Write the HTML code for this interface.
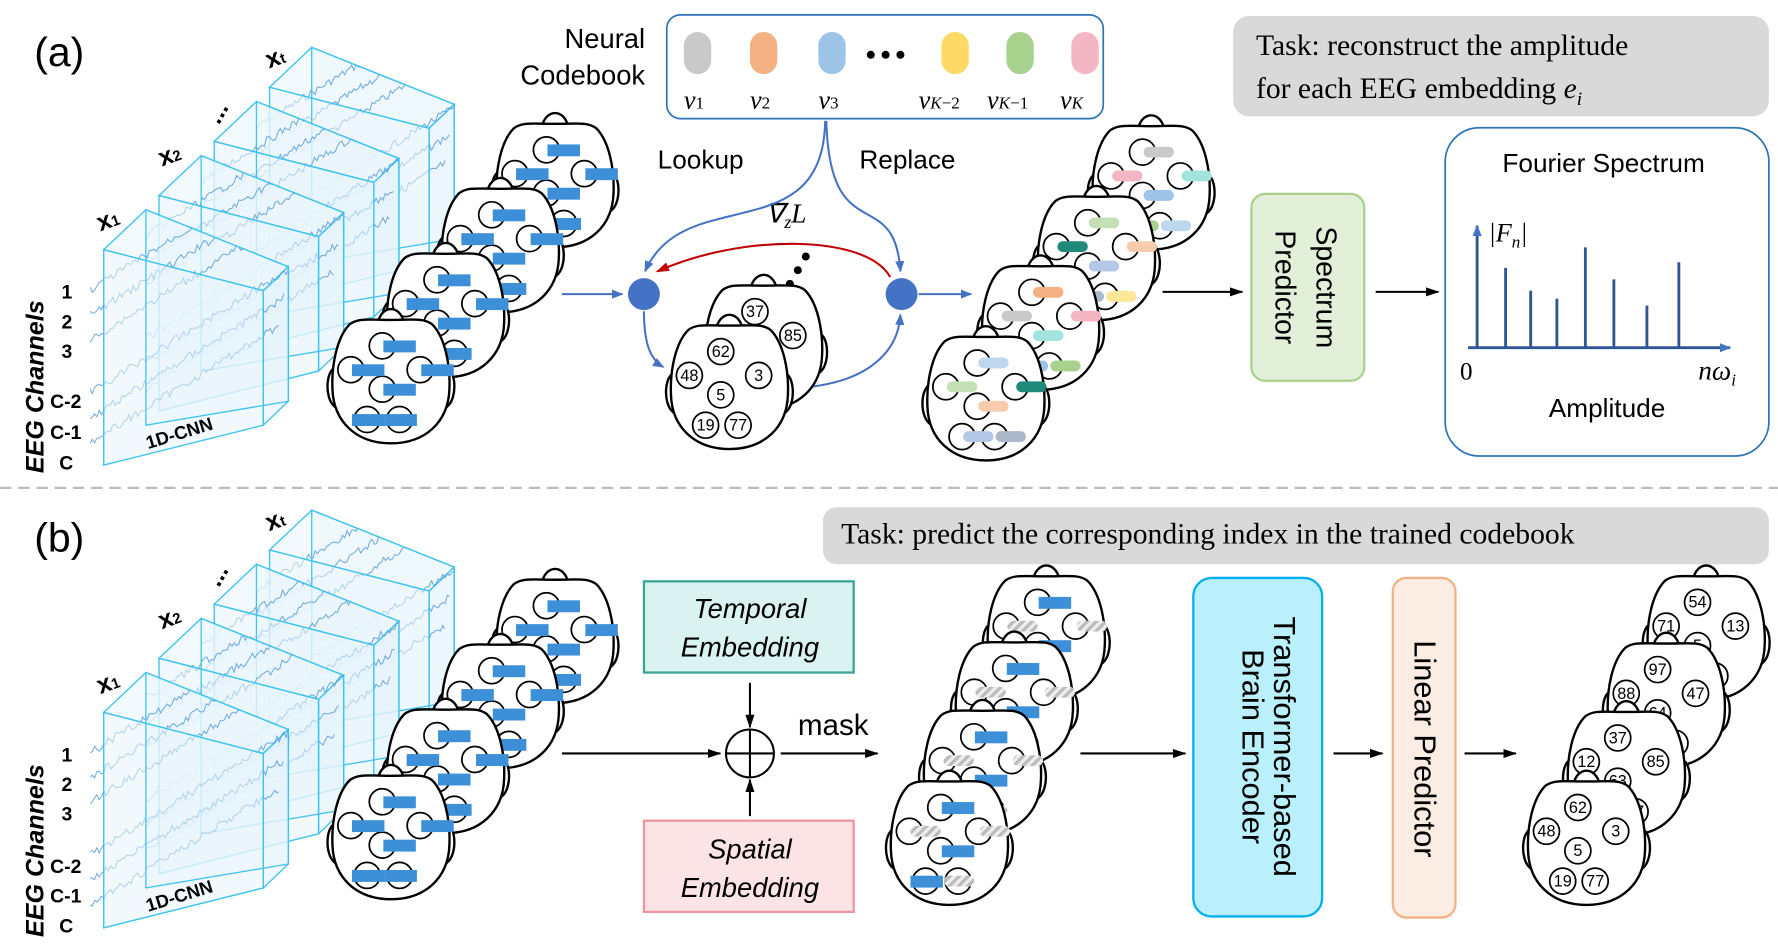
<!DOCTYPE html>
<html><head><meta charset="utf-8"><style>
html,body{margin:0;padding:0;background:#fff;}
svg{display:block;}
text{font-family:"Liberation Sans",sans-serif;}
text.sf,.sf text{font-family:"Liberation Serif",serif;}
</style></head><body>
<svg width="1778" height="945" viewBox="0 0 1560 829" xmlns="http://www.w3.org/2000/svg">
<defs>
<marker id="ab" markerWidth="10" markerHeight="10" refX="9" refY="5" orient="auto" markerUnits="userSpaceOnUse"><path d="M0,1 L10,5 L0,9 Z" fill="#4472c4"/></marker>
<marker id="ak" markerWidth="12" markerHeight="10" refX="11" refY="5" orient="auto" markerUnits="userSpaceOnUse"><path d="M0,1 L12,5 L0,9 Z" fill="#000"/></marker>
<marker id="ar" markerWidth="12" markerHeight="10" refX="10" refY="5" orient="auto" markerUnits="userSpaceOnUse"><path d="M0,1 L12,5 L0,9 Z" fill="#c00000"/></marker>
<pattern id="hatch" width="6" height="6" patternUnits="userSpaceOnUse" patternTransform="rotate(45)"><rect width="6" height="6" fill="#eee"/><rect width="3" height="6" fill="#bbb"/></pattern>
<g id="h" stroke="#000" stroke-width="2.2" fill="#fff">
<path d="M-50,-8 C-60,-8 -62,20 -52,28 Z"/>
<path d="M50,-8 C60,-8 62,20 52,28 Z"/>
<path d="M-12,-50 C-8,-66 8,-66 12,-50 Z"/>
<path d="M0,-52 C20,-52 30,-54 38,-48 C50,-36 55,-10 54,12 C53,42 32,62 0,62 C-32,62 -53,42 -54,12 C-55,-10 -50,-36 -38,-48 C-30,-54 -20,-52 0,-52 Z"/>
</g>
<g id="e" stroke="#000" stroke-width="1.6" fill="none">
<circle cx="-8" cy="-28" r="12"/><circle cx="-37" cy="-6" r="12"/><circle cx="27" cy="-6" r="12"/><circle cx="-8" cy="12" r="12"/><circle cx="-22" cy="40" r="12"/><circle cx="8" cy="40" r="12"/>
</g>
<g id="br" fill="#3d8fd8">
<rect x="-7" y="-33" width="30" height="11"/><rect x="-36" y="-11" width="30" height="11"/><rect x="28" y="-11" width="30" height="11"/><rect x="-7" y="7" width="30" height="11"/><rect x="-36" y="35" width="30" height="11"/><rect x="-6" y="35" width="30" height="11"/>
</g>
<g id="hb"><use href="#h"/><use href="#e"/><use href="#br"/></g>
<g id="hm"><use href="#h"/><use href="#e"/>
<g fill="#3d8fd8"><rect x="-7" y="-33" width="30" height="11"/><rect x="-7" y="7" width="30" height="11"/><rect x="-36" y="35" width="30" height="11"/></g>
<g fill="url(#hatch)"><rect x="-36" y="-11" width="28" height="10" rx="5"/><rect x="28" y="-11" width="28" height="10" rx="5"/><rect x="-5" y="35" width="28" height="10" rx="5"/></g></g>
<g id="hn"><use href="#h"/><use href="#e"/></g>
</defs>

<line x1="0" y1="428" x2="1560" y2="428" stroke="#bbb" stroke-width="2" stroke-dasharray="10,6"/>
<text x="30" y="58" font-size="36">(a)</text>
<text x="30" y="484" font-size="36">(b)</text>

<g id="slabsA"></g>
<g id="slabsB"></g>

<g font-weight="bold" font-size="17">
<text transform="translate(38,415) rotate(-90)" font-style="italic" font-size="22">EEG Channels</text>
<text x="54" y="262">1</text><text x="54" y="288">2</text><text x="54" y="314">3</text>
<text x="44" y="358">C-2</text><text x="44" y="385">C-1</text><text x="52" y="412">C</text>
<text transform="translate(38,822) rotate(-90)" font-style="italic" font-size="22">EEG Channels</text>
<text x="54" y="668">1</text><text x="54" y="694">2</text><text x="54" y="720">3</text>
<text x="44" y="766">C-2</text><text x="44" y="792">C-1</text><text x="52" y="818">C</text>
</g>
<g font-weight="bold" font-size="22">
<text x="88" y="203" transform="rotate(-20 88 203)">x<tspan font-size="13">1</tspan></text>
<text x="142" y="146" transform="rotate(-20 142 146)">x<tspan font-size="13">2</tspan></text>
<text x="192" y="110" transform="rotate(-60 192 110)">...</text>
<text x="236" y="60" transform="rotate(-20 236 60)">x<tspan font-size="13">t</tspan></text>
<text x="130" y="394" font-size="16" transform="rotate(-17 130 394)">1D-CNN</text>
<text x="88" y="609" transform="rotate(-20 88 609)">x<tspan font-size="13">1</tspan></text>
<text x="142" y="552" transform="rotate(-20 142 552)">x<tspan font-size="13">2</tspan></text>
<text x="192" y="516" transform="rotate(-60 192 516)">...</text>
<text x="236" y="466" transform="rotate(-20 236 466)">x<tspan font-size="13">t</tspan></text>
<text x="130" y="800" font-size="16" transform="rotate(-17 130 800)">1D-CNN</text>
</g>

<use href="#hb" transform="translate(487,158) scale(0.95)"/>
<use href="#hb" transform="translate(439,215) scale(0.95)"/>
<use href="#hb" transform="translate(391,272) scale(0.95)"/>
<use href="#hb" transform="translate(343,330) scale(0.95)"/>

<text x="566" y="42" font-size="24" text-anchor="end">Neural</text>
<text x="566" y="74" font-size="24" text-anchor="end">Codebook</text>
<rect x="585" y="13" width="383" height="91" rx="12" fill="#fff" stroke="#2e75b6" stroke-width="1.5"/>
<g>
<rect x="600" y="28" width="24" height="37" rx="12" fill="#c9c9c9"/>
<rect x="658" y="28" width="24" height="37" rx="12" fill="#f4b183"/>
<rect x="718" y="28" width="24" height="37" rx="12" fill="#9dc3e6"/>
<rect x="826" y="28" width="24" height="37" rx="12" fill="#ffd966"/>
<rect x="883" y="28" width="24" height="37" rx="12" fill="#a9d18e"/>
<rect x="940" y="28" width="24" height="37" rx="12" fill="#f4b6c2"/>
<circle cx="764" cy="48" r="3.5"/><circle cx="777" cy="48" r="3.5"/><circle cx="790" cy="48" r="3.5"/>
</g>
<g class="sf" font-size="23" font-style="italic">
<text x="600" y="95">v<tspan font-size="15" font-style="normal">1</tspan></text>
<text x="658" y="95">v<tspan font-size="15" font-style="normal">2</tspan></text>
<text x="718" y="95">v<tspan font-size="15" font-style="normal">3</tspan></text>
<text x="806" y="95">v<tspan font-size="15">K</tspan><tspan font-size="15" font-style="normal">−2</tspan></text>
<text x="866" y="95">v<tspan font-size="15">K</tspan><tspan font-size="15" font-style="normal">−1</tspan></text>
<text x="930" y="95">v<tspan font-size="15">K</tspan></text>
</g>
<text x="577" y="148" font-size="23">Lookup</text>
<text x="754" y="148" font-size="23">Replace</text>
<text x="672" y="195" class="sf" font-size="24" font-style="italic">∇<tspan font-size="16" dy="5">z</tspan><tspan dy="-5">L</tspan></text>

<g fill="none" stroke="#4472c4" stroke-width="1.8">
<path d="M724,106 C722,220 600,160 566,238" marker-end="url(#ab)"/>
<path d="M725,106 C728,220 785,160 790,238" marker-end="url(#ab)"/>
<line x1="493" y1="258" x2="546" y2="258" marker-end="url(#ab)"/>
<line x1="806" y1="258" x2="852" y2="258" marker-end="url(#ab)"/>
<path d="M565,273 C565,300 570,315 582,322" marker-end="url(#ab)"/>
<path d="M705,340 C760,335 788,310 790,276" marker-end="url(#ab)"/>
</g>
<path d="M781,243 C760,205 650,205 577,238" fill="none" stroke="#c00000" stroke-width="1.8" marker-end="url(#ar)"/>
<circle cx="565" cy="258" r="14" fill="#4472c4"/>
<circle cx="791" cy="258" r="14" fill="#4472c4"/>
<circle cx="707" cy="225" r="3.5"/><circle cx="700" cy="237" r="3.5"/><circle cx="693" cy="249" r="3.5"/>

<g transform="translate(670,300) scale(0.95)"><use href="#hn"/>
<g font-size="15" text-anchor="middle"><text x="-8" y="-23">37</text><text x="27" y="-1">85</text></g></g>
<g transform="translate(640,335) scale(0.95)"><use href="#hn"/>
<g font-size="15" text-anchor="middle"><text x="-8" y="-23">62</text><text x="-37" y="-1">48</text><text x="27" y="-1">3</text><text x="-8" y="17">5</text><text x="-22" y="45">19</text><text x="8" y="45">77</text></g></g>

<g id="colA"></g>

<line x1="1020" y1="256" x2="1090" y2="256" stroke="#000" stroke-width="1.8" marker-end="url(#ak)"/>
<rect x="1098" y="170" width="99" height="164" rx="12" fill="#e2efd9" stroke="#a9d18e" stroke-width="2"/>
<text transform="translate(1155,252) rotate(90)" font-size="25" text-anchor="middle">Spectrum</text>
<text transform="translate(1119,252) rotate(90)" font-size="25" text-anchor="middle">Predictor</text>
<line x1="1207" y1="256" x2="1262" y2="256" stroke="#000" stroke-width="1.8" marker-end="url(#ak)"/>

<rect x="1082" y="14" width="470" height="88" rx="14" fill="#d9d9d9"/>
<text x="1102" y="48" class="sf" font-size="26">Task: reconstruct the amplitude</text>
<text x="1102" y="86" class="sf" font-size="26">for each EEG embedding <tspan font-style="italic">e</tspan><tspan font-style="italic" font-size="17" dy="6">i</tspan></text>

<rect x="1268" y="112" width="284" height="288" rx="30" fill="#fff" stroke="#2e75b6" stroke-width="1.5"/>
<text x="1407" y="151" font-size="23" text-anchor="middle">Fourier Spectrum</text>
<g stroke="#2f5597" stroke-width="2.5">
<line x1="1296" y1="305" x2="1296" y2="198" marker-end="url(#ab)"/>
<line x1="1288" y1="305" x2="1518" y2="305" marker-end="url(#ab)"/>
<line x1="1321" y1="305" x2="1321" y2="235"/>
<line x1="1343" y1="305" x2="1343" y2="255"/>
<line x1="1366" y1="305" x2="1366" y2="262"/>
<line x1="1391" y1="305" x2="1391" y2="217"/>
<line x1="1416" y1="305" x2="1416" y2="245"/>
<line x1="1445" y1="305" x2="1445" y2="268"/>
<line x1="1473" y1="305" x2="1473" y2="230"/>
</g>
<text x="1306" y="212" class="sf" font-size="23" font-style="italic">|F<tspan font-size="15" dy="5">n</tspan><tspan dy="-5">|</tspan></text>
<text x="1281" y="333" class="sf" font-size="22">0</text>
<text x="1490" y="333" class="sf" font-size="24" font-style="italic">nω<tspan font-size="15" dy="5">i</tspan></text>
<text x="1410" y="366" font-size="23" text-anchor="middle">Amplitude</text>

<use href="#hb" transform="translate(487,558) scale(0.95)"/>
<use href="#hb" transform="translate(439,615) scale(0.95)"/>
<use href="#hb" transform="translate(391,672) scale(0.95)"/>
<use href="#hb" transform="translate(343,730) scale(0.95)"/>

<rect x="722" y="445" width="830" height="50" rx="12" fill="#d9d9d9"/>
<text x="738" y="477" class="sf" font-size="26">Task: predict the corresponding index in the trained codebook</text>

<rect x="565" y="510" width="184" height="80" fill="#daf3f1" stroke="#3aa597" stroke-width="2"/>
<text x="658" y="542" font-size="24" font-style="italic" text-anchor="middle">Temporal</text>
<text x="658" y="576" font-size="24" font-style="italic" text-anchor="middle">Embedding</text>
<rect x="565" y="720" width="184" height="80" fill="#fce4e6" stroke="#ec959e" stroke-width="2"/>
<text x="658" y="753" font-size="24" font-style="italic" text-anchor="middle">Spatial</text>
<text x="658" y="787" font-size="24" font-style="italic" text-anchor="middle">Embedding</text>
<g stroke="#000" stroke-width="1.8" fill="none">
<line x1="493" y1="661" x2="632" y2="661" marker-end="url(#ak)"/>
<line x1="658" y1="599" x2="658" y2="638" marker-end="url(#ak)"/>
<line x1="658" y1="716" x2="658" y2="684" marker-end="url(#ak)"/>
<line x1="685" y1="661" x2="770" y2="661" marker-end="url(#ak)"/>
<circle cx="658" cy="661" r="21"/>
<line x1="637" y1="661" x2="679" y2="661"/><line x1="658" y1="640" x2="658" y2="682"/>
<line x1="948" y1="661" x2="1040" y2="661" marker-end="url(#ak)"/>
<line x1="1170" y1="661" x2="1213" y2="661" marker-end="url(#ak)"/>
<line x1="1285" y1="661" x2="1330" y2="661" marker-end="url(#ak)"/>
</g>
<text x="700" y="645" font-size="26">mask</text>

<use href="#hm" transform="translate(918,555) scale(0.95)"/>
<use href="#hm" transform="translate(890,613) scale(0.95)"/>
<use href="#hm" transform="translate(862,673) scale(0.95)"/>
<use href="#hm" transform="translate(833,735) scale(0.95)"/>

<rect x="1047" y="507" width="113" height="297" rx="16" fill="#b9f0fc" stroke="#00b0f0" stroke-width="2"/>
<text transform="translate(1118,655) rotate(90)" font-size="27" text-anchor="middle">Transformer-based</text>
<text transform="translate(1090,655) rotate(90)" font-size="27" text-anchor="middle">Brain Encoder</text>
<rect x="1222" y="507" width="55" height="298" rx="12" fill="#fcede4" stroke="#f4b183" stroke-width="2"/>
<text transform="translate(1241,657) rotate(90)" font-size="27" text-anchor="middle">Linear Predictor</text>

<g font-size="15" text-anchor="middle">
<g transform="translate(1497,555) scale(0.95)"><use href="#hn"/><text x="-8" y="-23">54</text><text x="-37" y="-1">71</text><text x="27" y="-1">13</text><text x="-8" y="17">5</text><text x="8" y="45">3</text></g>
<g transform="translate(1462,614) scale(0.95)"><use href="#hn"/><text x="-8" y="-23">97</text><text x="-37" y="-1">88</text><text x="27" y="-1">47</text><text x="-8" y="17">64</text><text x="8" y="45">6</text></g>
<g transform="translate(1427,674) scale(0.95)"><use href="#hn"/><text x="-8" y="-23">37</text><text x="-37" y="-1">12</text><text x="27" y="-1">85</text><text x="-8" y="17">63</text><text x="8" y="45">37</text></g>
<g transform="translate(1392,735) scale(0.95)"><use href="#hn"/><text x="-8" y="-23">62</text><text x="-37" y="-1">48</text><text x="27" y="-1">3</text><text x="-8" y="17">5</text><text x="-22" y="45">19</text><text x="8" y="45">77</text></g>
</g>
</svg>
<script>
(function(){
var NS="http://www.w3.org/2000/svg";
function el(p,t,a){var e=document.createElementNS(NS,t);for(var k in a)e.setAttribute(k,a[k]);p.appendChild(e);return e;}
var seed=7;function rnd(){seed=(seed*9301+49297)%233280;return seed/233280;}
var svg=document.querySelector("svg"),defs=svg.querySelector("defs");
var cid=0;
function P(a){return a.map(function(p){return p[0].toFixed(1)+","+p[1].toFixed(1);}).join(" ");}
function slabs(gid,baseY){
 var g=document.getElementById(gid);
 var st={stroke:"#3cc3ef","stroke-width":"1.2"};
 for(var i=3;i>=0;i--){
  var x=91+48.5*i,y=baseY-47.5*i;
  var TL=[x,y],TR=[x+140,y+36],BR=[x+140,y+154],BL=[x,y+189];
  var bTL=[x+37,y-35],bTR=[x+162,y+15],bBR=[x+162,y+133],bBL=[x+37,y+154];
  function poly(pts,fill){var a={points:P(pts),fill:fill,"fill-opacity":"0.55"};for(var k in st)a[k]=st[k];el(g,"polygon",a);}
  poly([bTL,bTR,bBR,bBL],"#eef8fd");
  poly([TL,bTL,bTR,TR],"#e8f5fc");
  poly([TR,bTR,bBR,BR],"#e3f2fb");
  // waves clipped
  var cp=el(defs,"clipPath",{id:"c"+(++cid)});
  el(cp,"polygon",{points:P([[x-12,y+10],bTL,bTR,BR,BL,[x-12,BL[1]]])});
  var wg=el(g,"g",{"clip-path":"url(#c"+cid+")"});
  var rows=[28,50,72,118,140,162];
  for(var r=0;r<rows.length;r++){
   var pts=[];
   for(var dx=-12;dx<=170;dx+=2){pts.push([x+dx,y+rows[r]-dx*0.62+(rnd()-0.5)*7]);}
   el(wg,"polyline",{points:P(pts),fill:"none",stroke:"#5b9bd5","stroke-width":"0.9","stroke-opacity":"0.85"});
  }
  poly([TL,TR,BR,BL],"#e6f4fb");
  el(g,"line",{x1:bTL[0],y1:bTL[1],x2:bBL[0],y2:bBL[1],stroke:"#3cc3ef","stroke-width":"1"});
  el(g,"line",{x1:bBL[0],y1:bBL[1],x2:bBR[0],y2:bBR[1],stroke:"#3cc3ef","stroke-width":"1"});
 }
}
slabs("slabsA",219);slabs("slabsB",625);
var cols=["#c9c9c9","#f8cbad","#9dc3e6","#ffe699","#c5e0b4","#f4b6c2","#b4c7e7","#a9d18e","#f4b183","#1f8a7a","#a2e4dd","#adb9ca","#bdd7ee"];
var g=document.getElementById("colA");
var Pp=[[-8,-28],[-37,-6],[27,-6],[-8,12],[-22,40],[8,40]];
var heads=[[1010,160],[962,222],[913,283],[865,345]];
var k=0;
heads.forEach(function(h){
 var t=el(g,"g",{transform:"translate("+h[0]+","+h[1]+") scale(0.95)"});
 el(t,"use",{href:"#h"});el(t,"use",{href:"#e"});
 Pp.forEach(function(p){el(t,"rect",{x:p[0]+1,y:p[1]-5,width:28,height:10,rx:5,fill:cols[(k++*5)%cols.length]});});
});
})();
</script>
</body></html>
